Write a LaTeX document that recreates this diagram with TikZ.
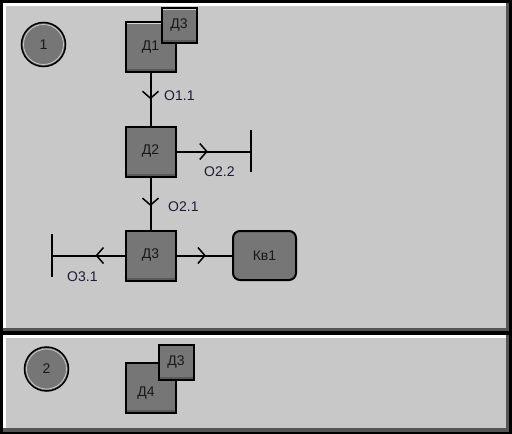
\documentclass[tikz,border=0pt]{standalone}
\usepackage{fontspec}
\setmainfont{Liberation Sans}
\usetikzlibrary{arrows.meta,decorations.markings}
\definecolor{panelbg}{HTML}{C8C8C8}
\definecolor{paneldark}{HTML}{555555}
\definecolor{boxfill}{HTML}{767676}
\definecolor{boxshade}{HTML}{5A5A5A}
\definecolor{labcol}{HTML}{1C1C3A}
\tikzset{
  dbox/.style={draw=black, line width=2pt, fill=boxfill, minimum width=#1, minimum height=#1, inner sep=0pt,
    font=\fontsize{14}{14}\selectfont, text=black!90,
    path picture={\fill[boxshade] (path picture bounding box.south west) rectangle ([yshift=3pt]path picture bounding box.south east);
                  \draw[white!70!boxfill, line width=1pt] ([shift={(1pt,-1pt)}]path picture bounding box.north west) -- ([shift={(-1pt,-1pt)}]path picture bounding box.north east);}},
  kvbox/.style={draw=black, line width=2pt, fill=boxfill, minimum width=63pt, minimum height=49pt, rounded corners=7pt, inner sep=0pt,
    font=\fontsize{14}{14}\selectfont, text=black!90},
  numcirc/.style={circle, draw=black, line width=1.5pt, fill=boxfill, minimum size=44pt, inner sep=0pt,
    font=\fontsize{14}{14}\selectfont, text=black!90},
  conn/.style={line width=2pt, black},
  chev/.style={postaction={decorate}, decoration={markings, mark=at position #1 with {\arrow[line width=1.5pt]{Straight Barb[length=7pt,width=16pt]}}}},
  lab/.style={anchor=west, text=labcol, font=\fontsize{14}{14}\selectfont, inner sep=0pt},
  bar/.style={line width=2pt, black}
}
\begin{document}
\begin{tikzpicture}[x=1pt,y=-1pt]
\useasboundingbox (0,0) rectangle (512,434);
\fill[black] (0,0) rectangle (512,434);
% panel 1
\fill[panelbg] (3,3) rectangle (509,331);
\fill[white] (3,3) rectangle (507,6);
\fill[white] (3,3) rectangle (6,329);
\fill[paneldark] (3,328) rectangle (509,331);
\fill[paneldark] (506,3) rectangle (509,331);
% panel 2
\fill[panelbg] (3,335) rectangle (509,432);
\fill[white] (3,335) rectangle (507,338);
\fill[white] (3,335) rectangle (6,430);
\fill[paneldark] (3,428) rectangle (509,432);
\fill[paneldark] (506,335) rectangle (509,432);

% panel 1 contents
\node[numcirc] (c1) at (43.5,44.5) {1};
\draw[white!60!boxfill, line width=0.8pt] (43.5,44.5) circle (20pt);
\node[dbox=50pt] (d1) at (150.5,47) {Д1};
\node[dbox=35pt] (d3a) at (179,25.5) {Д3};
\node[dbox=50pt] (d2) at (150.5,151.5) {Д2};
\node[dbox=50pt] (d3) at (150.5,255.5) {Д3};
\node[kvbox] (kv1) at (264.5,255.5) {Кв1};

\coordinate (b22) at (251,151.5);
\coordinate (b31) at (52,255.5);
\draw[bar] (251,130) -- (251,172);
\draw[bar] (52,234) -- (52,277);

\draw[conn, chev=0.5] (d1.south) -- (d2.north);
\draw[conn, chev=0.42] (d2.east) -- (b22);
\draw[conn, chev=0.55] (d2.south) -- (d3.north);
\draw[conn, chev=0.40] (d3.west) -- (b31);
\draw[conn, chev=0.53] (d3.east) -- (kv1.west);

\node[lab] (o11) at (164,96) {О1.1};
\node[lab] (o22) at (204,172) {О2.2};
\node[lab] (o21) at (168,207) {О2.1};
\node[lab] (o31) at (67,277) {О3.1};

% panel 2 contents
\node[numcirc] (c2) at (46.5,369) {2};
\draw[white!60!boxfill, line width=0.8pt] (46.5,369) circle (20pt);
\node[dbox=50pt] (d4) at (151,387.5) {};
\node[font=\fontsize{14}{14}\selectfont, text=black!90, inner sep=0pt] (d4t) at (146,393) {Д4};
\node[dbox=35pt] (d3b) at (176,362) {Д3};
\end{tikzpicture}
\end{document}
